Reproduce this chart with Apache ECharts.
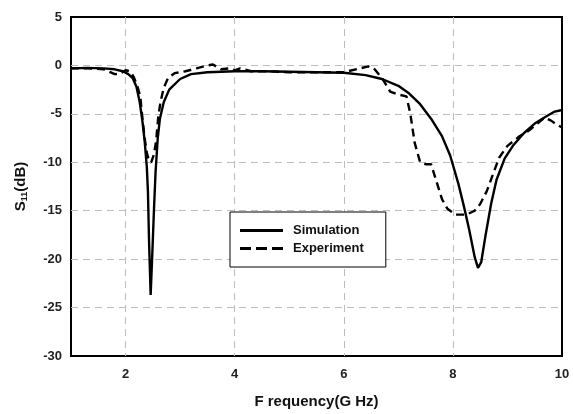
<!DOCTYPE html>
<html>
<head>
<meta charset="utf-8">
<script src="https://cdn.jsdelivr.net/npm/echarts@6/dist/echarts.min.js"></script>
<style>
  html, body { margin: 0; padding: 0; background: #fff; }
  #chart { width: 573px; height: 414px; }
</style>
</head>
<body>
<div id="chart"></div>
<script>
// simulated S11 (solid)
const simFreq = [1.0, 1.3, 1.6, 1.8, 1.95, 2.05, 2.13, 2.2, 2.26, 2.31, 2.35, 2.39, 2.41, 2.43, 2.46, 2.49, 2.52, 2.55, 2.59, 2.63, 2.7, 2.8, 3.0, 3.2, 3.5, 4.0, 4.5, 5.0, 5.5, 6.0, 6.4, 6.7, 7.0, 7.2, 7.4, 7.6, 7.8, 7.95, 8.1, 8.2, 8.3, 8.4, 8.46, 8.52, 8.6, 8.7, 8.8, 8.95, 9.1, 9.3, 9.5, 9.7, 9.85, 10.0];
const simS11 = [-0.3, -0.25, -0.3, -0.4, -0.6, -0.9, -1.3, -2.2, -3.8, -5.8, -7.8, -10.5, -13, -18, -23.7, -19.5, -15, -11, -7.5, -5.5, -3.8, -2.5, -1.4, -0.9, -0.7, -0.6, -0.6, -0.65, -0.7, -0.75, -1.0, -1.4, -2.1, -2.9, -4.0, -5.5, -7.3, -9.3, -12.2, -14.5, -17, -19.8, -20.9, -20.3, -17.5, -14.3, -11.8, -9.6, -8.3, -7.0, -6.0, -5.3, -4.8, -4.6];

// measured S11 (dashed)
const expFreq = [1.0, 1.3, 1.6, 1.72, 1.8, 1.9, 2.0, 2.08, 2.15, 2.22, 2.27, 2.31, 2.35, 2.39, 2.43, 2.47, 2.52, 2.56, 2.6, 2.64, 2.7, 2.78, 2.9, 3.1, 3.3, 3.5, 3.6, 3.75, 3.9, 4.0, 4.1, 4.3, 4.6, 5.0, 5.5, 6.0, 6.3, 6.45, 6.55, 6.7, 6.85, 7.0, 7.15, 7.22, 7.3, 7.4, 7.5, 7.6, 7.7, 7.8, 7.9, 8.05, 8.25, 8.4, 8.5, 8.62, 8.75, 8.85, 9.0, 9.2, 9.4, 9.55, 9.68, 9.8, 9.9, 10.0];
const expS11 = [-0.3, -0.3, -0.4, -0.7, -0.9, -0.85, -0.5, -0.6, -1.2, -2.2, -3.2, -5.5, -7.5, -9.0, -9.9, -10, -9.2, -7.8, -5.3, -3.8, -2.3, -1.3, -0.8, -0.6, -0.3, 0.0, 0.1, -0.4, -0.3, -0.5, -0.3, -0.6, -0.6, -0.7, -0.7, -0.7, -0.3, -0.1, -0.3, -1.3, -2.7, -3.0, -3.2, -5.0, -8.0, -10.0, -10.2, -10.2, -12, -13.8, -14.8, -15.4, -15.4, -15.0, -14.3, -13, -11, -9.5, -8.3, -7.4, -6.7, -6.0, -5.4, -5.7, -6.1, -6.4];

const font = 'Liberation Sans, Arial, sans-serif';
const gridGray = '#bdbdbd';
const none = 'rgba(0,0,0,0)';

// legend samples: a plain bar and three dashes
const solidIcon = 'path://M0,0H43V3H0Z';
const dashIcon = 'path://M0,0H11V3H0Z M16,0H27V3H16Z M32,0H43V3H32Z';

const chart = echarts.init(document.getElementById('chart'));

const option = {
  animation: false,
  grid: {
    left: 71,
    right: 11,
    top: 17,
    bottom: 53,
    show: true,
    borderColor: '#000',
    borderWidth: 2,
  },
  legend: {
    data: [
      { name: 'Simulation', icon: solidIcon },
      { name: 'Experiment', icon: dashIcon },
    ],
    orient: 'vertical',
    left: 230,
    top: 212,
    itemWidth: 43,
    itemHeight: 3,
    itemGap: 5,
    padding: [12, 22, 12, 10],
    borderColor: '#000',
    borderWidth: 1,
    backgroundColor: '#fff',
    itemStyle: { color: '#000' },
    textStyle: {
      fontFamily: font,
      fontWeight: 'bold',
      fontSize: 13,
      color: '#111',
      padding: [0, 0, 0, 5],
    },
  },
  xAxis: {
    type: 'value',
    min: 1,
    max: 10,
    interval: 1,
    name: 'F requency(G Hz)',
    nameLocation: 'middle',
    nameGap: 38,
    nameTextStyle: { fontFamily: font, fontWeight: 'bold', fontSize: 15, color: '#111' },
    axisLine: { show: false },
    axisTick: { show: false },
    axisLabel: {
      fontFamily: font,
      fontWeight: 'bold',
      fontSize: 13,
      color: '#222',
      margin: 12,
      formatter: (v) => (v % 2 === 0 ? String(v) : ''),
    },
    splitLine: {
      show: true,
      // lines at 1..10: only the even inner ones are drawn
      lineStyle: { color: [none, gridGray, none, gridGray, none, gridGray, none, gridGray, none, none], type: [7, 5], width: 1 },
    },
  },
  yAxis: {
    type: 'value',
    min: -30,
    max: 5,
    interval: 5,
    name: 'S{sub|11}(dB)',
    nameLocation: 'middle',
    nameRotate: 90,
    nameGap: 42,
    nameTextStyle: {
      fontFamily: font,
      fontWeight: 'bold',
      fontSize: 15,
      color: '#111',
      rich: {
        sub: { fontFamily: font, fontWeight: 'bold', fontSize: 9, color: '#111', verticalAlign: 'bottom', padding: [7, 0, 0, 0] },
      },
    },
    axisLine: { show: false },
    axisTick: { show: false },
    axisLabel: {
      fontFamily: font,
      fontWeight: 'bold',
      fontSize: 13,
      color: '#222',
      margin: 9,
    },
    splitLine: {
      show: true,
      lineStyle: { color: [none, gridGray, gridGray, gridGray, gridGray, gridGray, gridGray, none], type: [7, 5], width: 1 },
    },
  },
  series: [
    {
      name: 'Simulation',
      type: 'line',
      data: simFreq.map((f, i) => [f, simS11[i]]),
      showSymbol: false,
      symbol: 'none',
      lineStyle: { color: '#000', width: 2.4 },
      itemStyle: { color: '#000' },
    },
    {
      name: 'Experiment',
      type: 'line',
      data: expFreq.map((f, i) => [f, expS11[i]]),
      showSymbol: false,
      symbol: 'none',
      lineStyle: { color: '#000', width: 2.4, type: [8, 5] },
      itemStyle: { color: '#000' },
    },
  ],
};

chart.setOption(option);
</script>
</body>
</html>
